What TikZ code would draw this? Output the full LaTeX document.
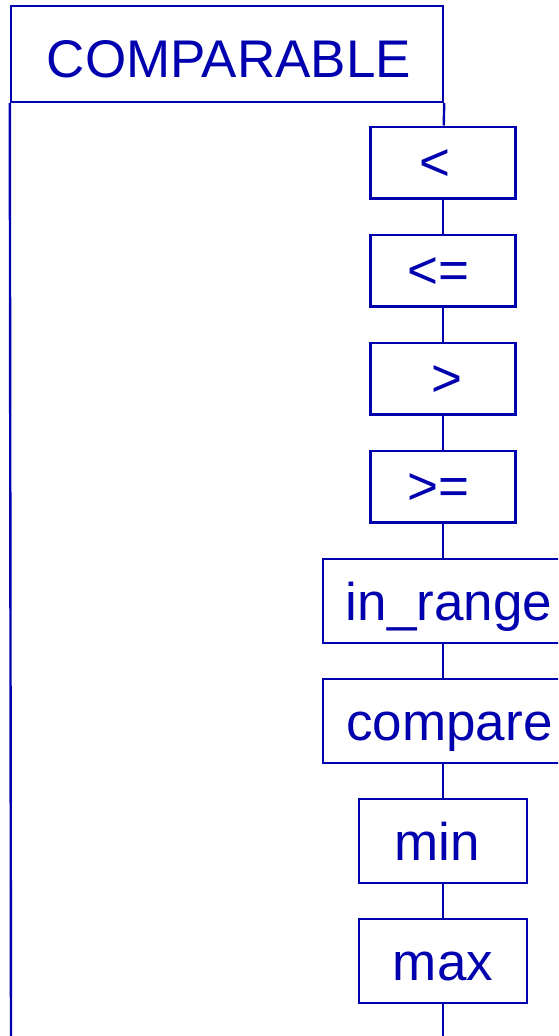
\documentclass[tikz,border=0pt]{standalone}
\usepackage{fontspec}
\setmainfont{Liberation Sans}
\definecolor{umlblue}{RGB}{0,0,175}
\begin{document}
\begin{tikzpicture}[x=1pt,y=-1pt,
  box/.style={draw=umlblue, line width=2.4pt, fill=white, text=umlblue, inner sep=0pt,
    font=\fontsize{53}{60}\selectfont, text depth=0pt},
  sbox/.style={box, minimum width=144.7pt, minimum height=71.6pt, text height=36pt},
  mbox/.style={box, minimum height=84pt, text height=39pt},
  conn/.style={draw=umlblue, line width=2.4pt}]
\path[use as bounding box] (0,0) rectangle (558,1036);
\clip (0,0) rectangle (558,1036);
\node[box, minimum width=432pt, minimum height=96pt, text height=47.4pt] (cls) at (227,54) {\kern4pt COMPARABLE};
\node[sbox] (lt) at (443,162.5) {\kern-17pt<};
\node[sbox] (le) at (443,270.5) {\kern-10pt<=};
\node[sbox] (gt) at (443,378.5) {\kern7pt>};
\node[sbox] (ge) at (443,486.5) {\kern-10pt>=};
\node[mbox, minimum width=240pt] (inr) at (443,600.7) {\kern12pt in\_range};
\node[mbox, minimum width=240pt] (cmp) at (443,721) {\kern13pt compare};
\node[mbox, minimum width=168pt] (mn) at (443,840.9) {\kern-11pt min};
\node[mbox, minimum width=168pt] (mx) at (443,960.7) {max};
\coordinate (bot) at (443,1036);
\coordinate (lbot) at (11,1036);
\draw[conn] (cls.south east) -- (lt);
\draw[conn] (lt) -- (le);
\draw[conn] (le) -- (gt);
\draw[conn] (gt) -- (ge);
\draw[conn] (ge) -- (inr);
\draw[conn] (inr) -- (cmp);
\draw[conn] (cmp) -- (mn);
\draw[conn] (mn) -- (mx);
\draw[conn] (mx) -- (bot);
\draw[conn] (cls.south west) -- (lbot);
\end{tikzpicture}
\end{document}
